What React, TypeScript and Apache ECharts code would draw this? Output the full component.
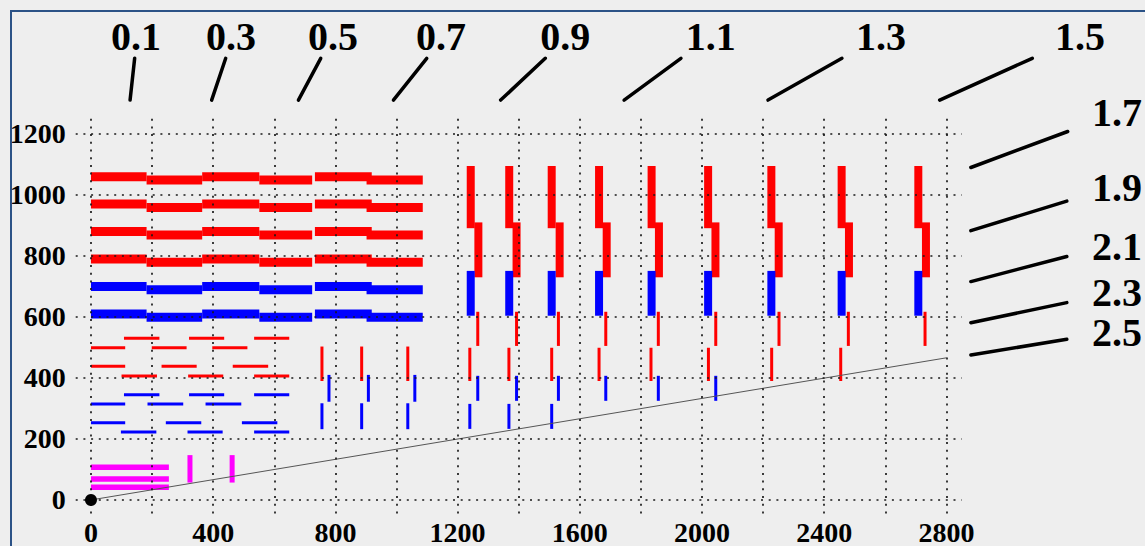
import React, { useEffect, useRef } from "react";
import * as echarts from "echarts";

// ---- axes ----
const xTickValues = [0, 200, 400, 600, 800, 1000, 1200, 1400, 1600, 1800, 2000, 2200, 2400, 2600, 2800];
const xLabelValues = [0, 400, 800, 1200, 1600, 2000, 2400, 2800];
const yTickValues = [0, 200, 400, 600, 800, 1000, 1200];

// ---- panel 1: thick stepped rows [high level, low level] ----
const thickRedRows = [[1060, 1049], [970, 959], [880, 869], [790, 779]];
const thickBlueRows = [[700, 689], [610, 599]];
const stepHighSpans = [[0, 182], [364, 551], [733, 919]];
const stepLowSpans = [[182, 364], [551, 724], [902, 1086]];

// ---- panel 1: thin dashes [x1, x2, y] ----
const thinRedDashes = [
  [108, 224, 530], [321, 436, 530], [534, 649, 530],
  [0, 112, 499], [199, 313, 499], [397, 512, 499],
  [0, 112, 438], [231, 346, 438], [464, 580, 438],
  [100, 216, 406], [318, 433, 406], [534, 649, 406],
];
const thinBlueDashes = [
  [108, 224, 345], [321, 436, 345], [534, 649, 345],
  [0, 112, 315], [185, 302, 315], [375, 492, 315],
  [0, 112, 253], [245, 361, 253], [494, 610, 253],
  [98, 214, 223], [316, 431, 223], [534, 649, 223],
];

// ---- thin vertical ticks [x, y1, y2] ----
const thinRedVertical = [
  [756, 390, 503], [886, 390, 503], [1037, 390, 503],
  [1266, 505, 617], [1393, 505, 617], [1530, 505, 617], [1685, 505, 617], [1857, 505, 617],
  [2045, 505, 617], [2252, 505, 617], [2479, 505, 617], [2730, 505, 617],
  [1240, 390, 499], [1368, 390, 499], [1508, 390, 499], [1663, 390, 499], [1833, 390, 499],
  [2021, 390, 499], [2228, 390, 499], [2454, 390, 499],
];
const thinBlueVertical = [
  [779, 322, 410], [908, 322, 410], [1060, 322, 410],
  [756, 232, 317], [886, 232, 317], [1037, 232, 317],
  [1266, 325, 407], [1393, 325, 407], [1530, 325, 407], [1685, 325, 407], [1857, 325, 407], [2045, 325, 407],
  [1240, 233, 315], [1368, 233, 315], [1508, 233, 315],
];

// ---- panel 2: thick vertical steps [x, y1, y2] ----
const thickRedVertical = [
  [1243, 891, 1095], [1369, 891, 1095], [1508, 891, 1095], [1663, 891, 1095], [1835, 891, 1095],
  [2020, 891, 1095], [2227, 891, 1095], [2457, 891, 1095], [2708, 891, 1095],
  [1268, 730, 910], [1393, 730, 910], [1534, 730, 910], [1688, 730, 910], [1859, 730, 910],
  [2044, 730, 910], [2251, 730, 910], [2481, 730, 910], [2733, 730, 910],
];
const thickBlueVertical = [
  [1243, 604, 751], [1369, 604, 751], [1508, 604, 751], [1663, 604, 751], [1835, 604, 751],
  [2020, 604, 751], [2227, 604, 751], [2457, 604, 751], [2708, 604, 751],
];

// ---- magenta marks ----
const magentaHorizontal = [[0, 255, 107], [0, 255, 69], [0, 255, 42]];
const magentaVertical = [[324, 57, 147], [462, 57, 147]];

// ---- diagonal and origin ----
const diagonalLine = [[0, 0], [2800, 466]];
const originPoint = [[0, 0]];

// ---- width annotations ----
const widthLabels = ["0.1", "0.3", "0.5", "0.7", "0.9", "1.1", "1.3", "1.5", "1.7", "1.9", "2.1", "2.3", "2.5"];
const labelPositions = [
  [147, 1521], [458, 1521], [792, 1521], [1146, 1521], [1552, 1521], [2029, 1521], [2586, 1521], [3237, 1521],
  [3358, 1269], [3358, 1023], [3358, 830], [3358, 679], [3358, 549],
];
const leaderLines = [
  [143, 1448, 128, 1311], [441, 1448, 395, 1311], [752, 1448, 679, 1311], [1099, 1448, 990, 1311],
  [1487, 1448, 1341, 1311], [1931, 1448, 1745, 1311], [2458, 1448, 2216, 1311], [3081, 1448, 2778, 1311],
  [3197, 1208, 2880, 1090], [3194, 980, 2880, 883], [3194, 798, 2880, 716], [3194, 647, 2880, 581],
  [3194, 527, 2880, 475],
];

const RED = "#ff0000";
const BLUE = "#0000ff";
const MAGENTA = "#ff00ff";

function horiz(list: number[][]) {
  return list.map((d) => [d[0], d[2], d[1], d[2]]);
}
function vert(list: number[][]) {
  return list.map((d) => [d[0], d[1], d[0], d[2]]);
}
function stepRows(rows: number[][]) {
  const out: number[][] = [];
  rows.forEach((r) => {
    stepHighSpans.forEach((s) => out.push([s[0], r[0], s[1], r[0]]));
    stepLowSpans.forEach((s) => out.push([s[0], r[1], s[1], r[1]]));
  });
  return out;
}

function segSeries(name: string, data: number[][], color: string, width: number, cap = "butt", z = 2) {
  return {
    type: "custom",
    name,
    z,
    clip: false,
    encode: { x: [0, 2], y: [1, 3] },
    data,
    renderItem: (_p: any, api: any) => {
      const a = api.coord([api.value(0), api.value(1)]);
      const b = api.coord([api.value(2), api.value(3)]);
      return {
        type: "line",
        shape: { x1: a[0], y1: a[1], x2: b[0], y2: b[1] },
        style: { stroke: color, lineWidth: width, lineCap: cap, fill: null },
      };
    },
  };
}

const axisFont = {
  fontFamily: "Liberation Serif", fontWeight: "bold", fontSize: 28, color: "#000",
  formatter: (v: number) => String(v),
};
const gridLine = { show: true, lineStyle: { color: "#1a1a1a", width: 1.7, type: [2, 5.7] } };

export default function App() {
  const ref = useRef<HTMLDivElement>(null);
  useEffect(() => {
    if (!ref.current) return;
    const chart = echarts.init(ref.current, null, { renderer: "svg" });
    chart.setOption({
      animation: false,
      backgroundColor: "transparent",
      grid: { left: 63.7, top: 106.7, width: 886, height: 396.5, containLabel: false, outerBoundsMode: "none" },
      xAxis: {
        type: "value", min: -50, max: 2850, z: 10,
        axisLine: { show: false, onZero: false },
        axisTick: { show: false, customValues: xTickValues },
        axisLabel: { ...axisFont, customValues: xLabelValues, margin: 3 },
        splitLine: gridLine,
      },
      yAxis: {
        type: "value", min: -50, max: 1250, z: 10,
        axisLine: { show: false, onZero: false },
        axisTick: { show: false, customValues: yTickValues },
        axisLabel: { ...axisFont, customValues: yTickValues, margin: 10 },
        splitLine: gridLine,
      },
      series: [
        segSeries("thickRed", stepRows(thickRedRows), RED, 9),
        segSeries("thickBlue", stepRows(thickBlueRows), BLUE, 9),
        segSeries("thinRedDash", horiz(thinRedDashes), RED, 3),
        segSeries("thinBlueDash", horiz(thinBlueDashes), BLUE, 3),
        segSeries("thinRedVert", vert(thinRedVertical), RED, 3),
        segSeries("thinBlueVert", vert(thinBlueVertical), BLUE, 3),
        segSeries("thickRedVert", vert(thickRedVertical), RED, 8),
        segSeries("thickBlueVert", vert(thickBlueVertical), BLUE, 8),
        segSeries("magentaH", horiz(magentaHorizontal), MAGENTA, 5.5),
        segSeries("magentaV", vert(magentaVertical), MAGENTA, 5),
        {
          type: "line", name: "diagonal", data: diagonalLine, showSymbol: false, symbol: "none", z: 3,
          lineStyle: { color: "#555", width: 1 },
        },
        segSeries("leaders", leaderLines, "#000", 3.5, "round", 12),
        {
          type: "custom", name: "labels", z: 12, clip: false,
          encode: { x: 0, y: 1 },
          data: labelPositions.map((p, i) => [p[0], p[1], i]),
          renderItem: (_p: any, api: any) => {
            const c = api.coord([api.value(0), api.value(1)]);
            return {
              type: "text", x: c[0], y: c[1],
              style: {
                text: widthLabels[api.value(2)], fill: "#000",
                fontFamily: "Liberation Serif", fontWeight: "bold", fontSize: 40, lineHeight: 32,
                align: "center", verticalAlign: "middle",
              },
            };
          },
        },
        {
          type: "scatter", name: "origin", data: originPoint, symbolSize: 12, z: 13,
          itemStyle: { color: "#000", opacity: 1 },
        },
      ],
    });
    return () => chart.dispose();
  }, []);
  return (
    <div style={{ position: "fixed", inset: 0, background: "#eeeeee", overflow: "hidden" }}>
      <div
        style={{
          position: "absolute", left: 10, top: 10, width: 1300, height: 700,
          border: "2px solid #2b5286", background: "#eeeeee",
        }}
      >
        <div ref={ref} style={{ width: 1133, height: 534 }} />
      </div>
    </div>
  );
}
